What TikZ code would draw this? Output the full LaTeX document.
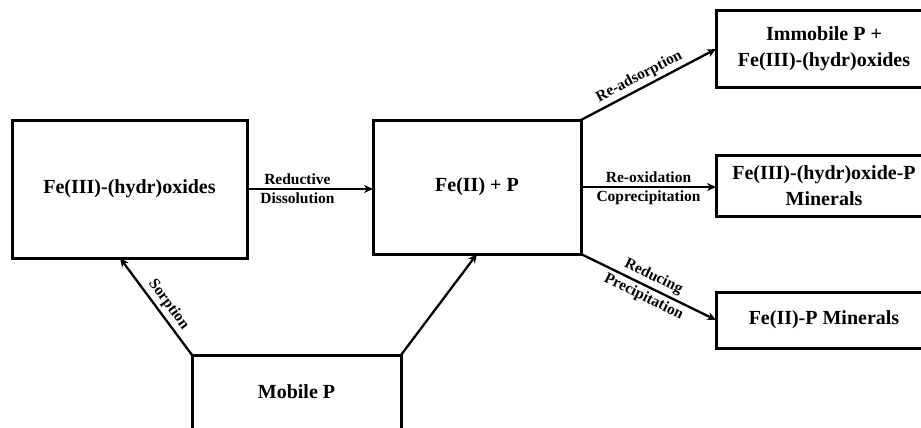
\documentclass[tikz,border=0pt]{standalone}
\usepackage{fontspec}
\setmainfont{Liberation Serif}
\usetikzlibrary{arrows.meta}
\begin{document}
\begin{tikzpicture}[x=1pt,y=-1pt,
  box/.style={draw, line width=3pt, font=\fontsize{20}{26}\selectfont\bfseries, align=center, inner sep=0pt, outer sep=0pt},
  arr/.style={line width=2.3pt, -{Stealth[length=9pt,width=8pt]}},
  lbl/.style={font=\fontsize{15.5}{17}\selectfont\bfseries, inner sep=3pt}
]
\useasboundingbox (0,0) rectangle (921,428);
\clip (0,0) rectangle (921,428);
\node[box, minimum width=235pt, minimum height=138pt] (A) at (129.5,189) {Fe(III)-(hydr)oxides};
\node[box, minimum width=208pt, minimum height=134pt] (B) at (477,187) {Fe(II) + P};
\node[box, minimum width=209pt, minimum height=74pt] (M) at (296.5,392) {Mobile P};
\node[box, minimum width=216pt, minimum height=76pt] (imm) at (824,49) {Immobile P +\\Fe(III)-(hydr)oxides};
\node[box, minimum width=216pt, minimum height=61pt] (fe3p) at (824,185.5) {Fe(III)-(hydr)oxide-P\\Minerals};
\node[box, minimum width=216pt, minimum height=56pt] (fe2p) at (824,320) {Fe(II)-P Minerals};

\draw[arr] (A.east) -- node[lbl,above,pos=0.4]{Reductive} node[lbl,below,pos=0.4]{Dissolution} (A.east -| B.west);
\draw[arr] (B.north east) -- node[lbl,above,sloped,pos=0.47]{Re-adsorption} (imm.west);
\draw[arr] (B.east) -- node[lbl,above]{Re-oxidation} node[lbl,below]{Coprecipitation} (B.east -| fe3p.west);
\draw[arr] (B.south east) -- node[lbl,above,sloped]{Reducing} node[lbl,below,sloped]{Precipitation} (fe2p.west);
\draw[arr] (M.north west) -- node[lbl,above,sloped,pos=0.45]{Sorption} ([xshift=-9.5pt]A.south);
\draw[arr] (M.north east) -- (B.south);
\end{tikzpicture}
\end{document}
